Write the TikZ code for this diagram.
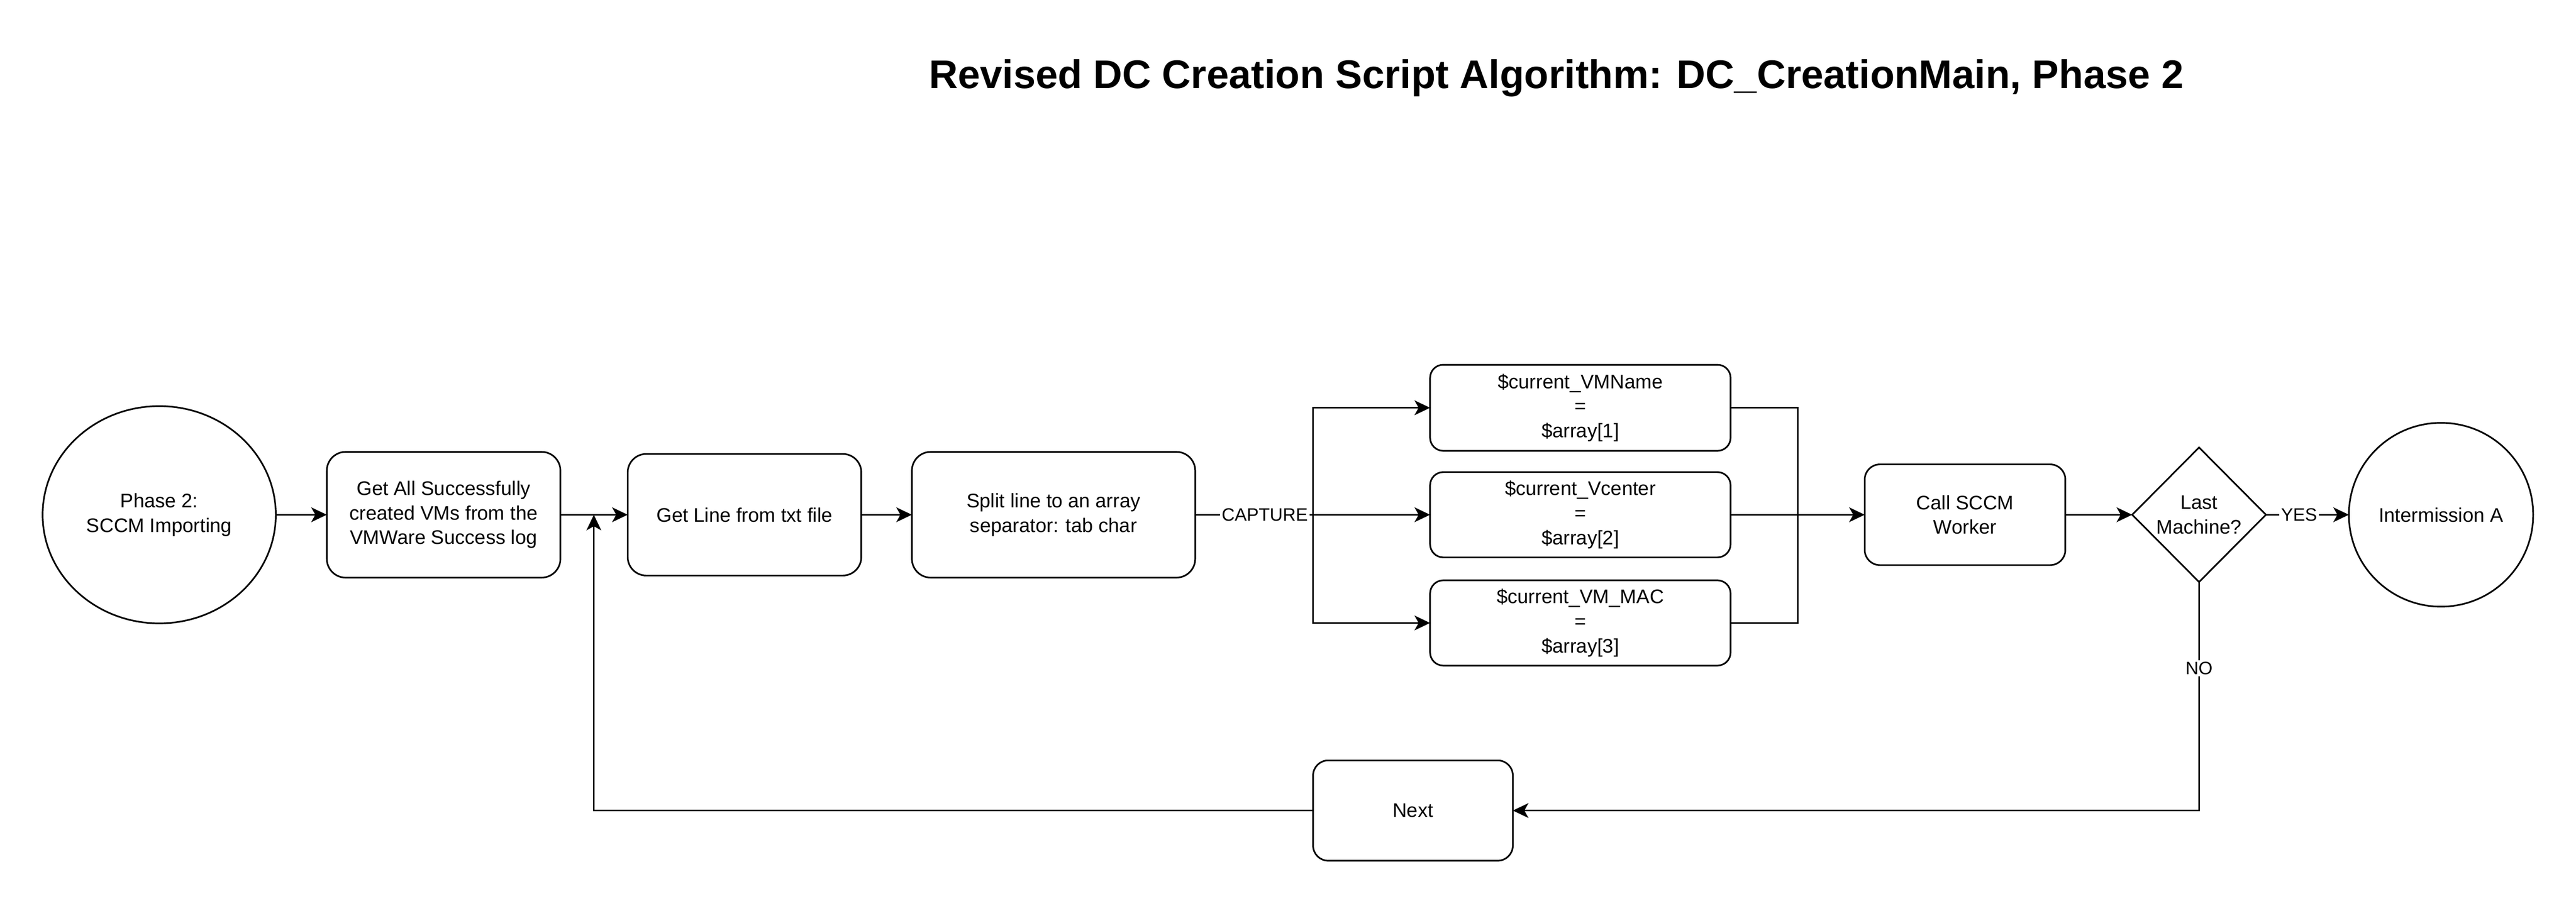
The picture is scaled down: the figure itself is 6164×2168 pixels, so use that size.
\documentclass[tikz,border=0pt]{standalone}
\usepackage{fontspec}
\setmainfont{Liberation Sans}
\usetikzlibrary{shapes.geometric,arrows.meta}
\newcommand\pxu{0.255pt}
\begin{document}
\begin{tikzpicture}[x=0.255pt, y=-0.255pt,
  every node/.style={inner sep=0pt, outer sep=0pt, align=center, font=\fontsize{12}{15}\selectfont},
  ln/.style={line width=1pt, draw=black},
  arr/.style={ln, -{Stealth[length=9.5pt, width=9pt, inset=2.5pt]}},
  procbox/.style={draw, line width=1pt, fill=white, rectangle},
  roundell/.style={draw, line width=1pt, fill=white, ellipse},
  lbl/.style={fill=white, inner sep=1pt, font=\fontsize{11}{13}\selectfont}
]
\useasboundingbox (0,0) rectangle (6164,2168);

\node[font=\bfseries\fontsize{24.4}{28}\selectfont, anchor=base] (title) at (3724,212)
  {Revised DC Creation Script Algorithm: DC\_CreationMain, Phase 2};

\node[roundell, minimum width=558*\pxu, minimum height=520*\pxu] (phase) at (381,1232)
  {Phase 2:\\SCCM Importing};
\node[procbox, rounded corners=11.5pt, minimum width=559*\pxu, minimum height=301*\pxu] (getall) at (1061.5,1232)
  {Get All Successfully\\created VMs from the\\VMWare Success log};
\node[procbox, rounded corners=11.3pt, minimum width=559*\pxu, minimum height=291*\pxu] (getline) at (1781.5,1232)
  {Get Line from txt file};
\node[procbox, rounded corners=11.5pt, minimum width=678*\pxu, minimum height=301*\pxu] (split) at (2521,1232)
  {Split line to an array\\separator: tab char};

\node[procbox, rounded corners=8pt, minimum width=719*\pxu, minimum height=206*\pxu] (vmname) at (3781.5,976)
  {\$current\_VMName\\=\\\$array[1]};
\node[procbox, rounded corners=8pt, minimum width=719*\pxu, minimum height=204*\pxu] (vcenter) at (3781.5,1232)
  {\$current\_Vcenter\\=\\\$array[2]};
\node[procbox, rounded corners=8pt, minimum width=719*\pxu, minimum height=204*\pxu] (vmac) at (3781.5,1491)
  {\$current\_VM\_MAC\\=\\\$array[3]};

\node[procbox, rounded corners=9.2pt, minimum width=480*\pxu, minimum height=241*\pxu] (call) at (4702,1232)
  {Call SCCM\\Worker};
\node[draw, line width=1pt, fill=white, diamond, minimum width=320*\pxu, minimum height=322*\pxu] (last) at (5262,1232)
  {Last\\Machine?};
\node[roundell, minimum width=441*\pxu, minimum height=440*\pxu] (inter) at (5841,1232)
  {Intermission A};
\node[procbox, rounded corners=9.2pt, minimum width=478*\pxu, minimum height=240*\pxu] (next) at (3381,1940)
  {Next};

\coordinate (junction) at (1421,1232);
\coordinate (branch) at (3142,1232);
\coordinate (merge) at (4302,1232);
\coordinate (nocorner) at (5262,1940);

\draw[arr] (phase) -- (getall);
\draw[arr] (getall) -- (getline);
\draw[arr] (getline) -- (split);
\draw[ln] (split) -- node[lbl, pos=0.59] {CAPTURE} (branch);
\draw[arr] (branch) |- (vmname);
\draw[arr] (branch) -- (vcenter);
\draw[arr] (branch) |- (vmac);
\draw[ln] (vmname) -| (merge);
\draw[ln] (vmac) -| (merge);
\draw[arr] (vcenter) -- (call);
\draw[arr] (call) -- (last);
\draw[arr] (last) -- node[lbl, pos=0.4] {YES} (inter);
\draw[arr] (last.south) -- node[lbl, pos=0.377] {NO} (nocorner) -- (next);
\draw[arr] (next) -| (junction);
\end{tikzpicture}
\end{document}
